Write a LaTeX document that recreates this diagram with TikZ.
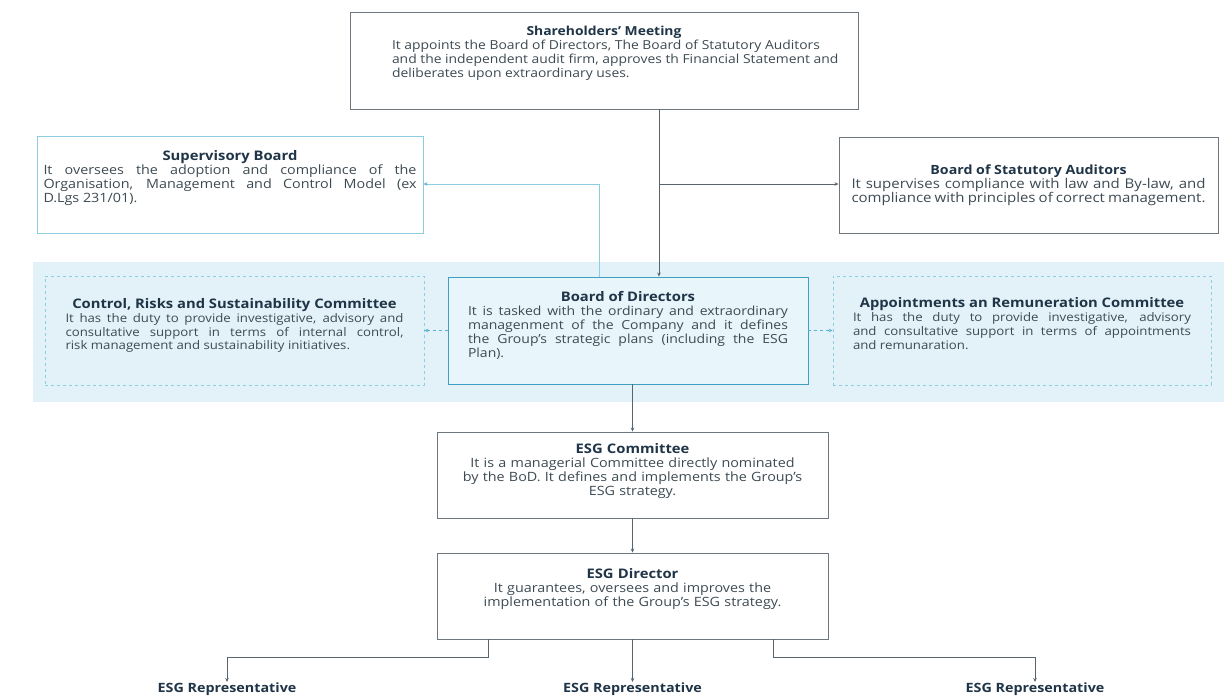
\documentclass[tikz,border=0pt]{standalone}
\usepackage{fontspec}
\setmainfont{Open Sans}[FakeStretch=1.12]
\usetikzlibrary{arrows.meta}

\definecolor{boxgrey}{HTML}{6E777D}
\definecolor{linegrey}{HTML}{59646C}
\definecolor{titlecol}{HTML}{1F3447}
\definecolor{textcol}{HTML}{3D4A52}
\definecolor{bandfill}{HTML}{E2F2F8}
\definecolor{bodfill}{HTML}{E8F5FA}
\definecolor{bodline}{HTML}{3F9FC0}
\definecolor{lightline}{HTML}{8DCDE2}
\definecolor{arrowblue}{HTML}{5BB2D0}

\newcommand{\boxtitle}[2][13.2]{{\centering\fontsize{#1}{14}\selectfont\bfseries\color{titlecol}#2\par}}
\newcommand{\lift}[1]{\par\vspace*{#1}}

\tikzset{
  orgbox/.style={draw=boxgrey, line width=0.9pt, fill=white, text=textcol,
    align=justify, inner sep=0pt,
    font=\fontsize{12.8}{14}\selectfont},
  midbox/.style={orgbox, align=center},
  supbox/.style={orgbox, draw=lightline},
  bodbox/.style={orgbox, draw=bodline, fill=bodfill, font=\fontsize{12.5}{14}\selectfont},
  dashbox/.style={orgbox, draw=lightline, dashed, fill=none, font=\fontsize{11.8}{13.8}\selectfont},
  replabel/.style={anchor=north, inner sep=1pt, text=titlecol,
    font=\fontsize{12.8}{14}\selectfont\bfseries},
  conn/.style={draw=linegrey, line width=0.9pt, -{Stealth[length=4pt,width=3.5pt]}},
  blueconn/.style={draw=lightline, line width=0.9pt, -{Stealth[length=4pt,width=3.5pt,color=arrowblue]}},
  dashconn/.style={draw=arrowblue, line width=0.7pt, dashed, -{Stealth[length=4pt,width=3.5pt]}}
}

\begin{document}
\begin{tikzpicture}[x=1pt,y=-1pt]
  \useasboundingbox (0,0) rectangle (1224,699);

  % committees band
  \fill[bandfill] (33,262) rectangle (1224,402);

  \node[orgbox, minimum width=508pt, minimum height=97pt, text width=484pt,
        font=\fontsize{12.4}{14}\selectfont] (share) at (604,60.5)
    {\leftskip=30pt
     \boxtitle[12.4]{Shareholders' Meeting}
     It appoints the Board of Directors, The Board of Statutory Auditors\\
     and the independent audit firm, approves th Financial Statement and\\
     deliberates upon extraordinary uses.\lift{15pt}};

  \node[supbox, minimum width=386pt, minimum height=97pt, text width=373pt] (sup) at (230,184.5)
    {\boxtitle{Supervisory Board}
     It oversees the adoption and compliance of the\linebreak
     Organisation, Management and Control Model (ex\linebreak
     D.Lgs 231/01).\lift{12pt}};

  \node[orgbox, minimum width=379pt, minimum height=96pt, text width=354pt,
        font=\fontsize{13.4}{14}\selectfont] (aud) at (1028.5,185)
    {\boxtitle[12.7]{Board of Statutory Auditors}
     It supervises compliance with law and By-law, and\linebreak
     compliance with principles of correct management.};

  \node[dashbox, minimum width=379pt, minimum height=109pt, text width=338pt] (crsc) at (234.5,330.5)
    {\boxtitle{Control, Risks and Sustainability Committee}
     It has the duty to provide investigative, advisory and\linebreak
     consultative support in terms of internal control,\linebreak
     risk management and sustainability initiatives.\lift{10pt}};

  \node[bodbox, minimum width=360pt, minimum height=107pt, text width=320pt] (bod) at (628,330.5)
    {\boxtitle{Board of Directors}
     It is tasked with the ordinary and extraordinary\linebreak
     managenment of the Company and it defines\linebreak
     the Group's strategic plans (including the ESG\linebreak
     Plan).\lift{10pt}};

  \node[dashbox, minimum width=378pt, minimum height=109pt, text width=338pt] (arc) at (1022,330.5)
    {\boxtitle{Appointments an Remuneration Committee}
     It has the duty to provide investigative, advisory\linebreak
     and consultative support in terms of appointments\linebreak
     and remunaration.\lift{14pt}};

  \node[midbox, minimum width=391pt, minimum height=86pt, text width=380pt] (esgc) at (632.5,475)
    {\boxtitle{ESG Committee}
     It is a managerial Committee directly nominated\\
     by the BoD. It defines and implements the Group's\\
     ESG strategy.\lift{8pt}};

  \node[midbox, minimum width=391pt, minimum height=86pt, text width=380pt] (esgd) at (632.5,596)
    {\boxtitle{ESG Director}
     It guarantees, oversees and improves the\\
     implementation of the Group's ESG strategy.\lift{14pt}};

  \node[replabel] (repl) at (227,682) {ESG Representative};
  \node[replabel] (repc) at (632.5,682) {ESG Representative};
  \node[replabel] (repr) at (1035,682) {ESG Representative};

  % connectors
  \coordinate (trunk) at (659,184);
  \draw[conn] (share.south -| trunk) -- (bod.north -| trunk);
  \draw[conn] (trunk) -- (trunk -| aud.west);

  \coordinate (svline) at (599,184);
  \draw[blueconn] (bod.north -| svline) -- (svline) -- (svline -| sup.east);

  \draw[dashconn] (bod.west) -- (crsc.east);
  \draw[dashconn] (bod.east) -- (arc.west);

  \draw[conn] (esgc.north |- bod.south) -- (esgc.north);
  \draw[conn] (esgc.south) -- (esgd.north);

  \coordinate (lbranch) at (488,657);
  \coordinate (rbranch) at (773,657);
  \draw[conn] (esgd.south -| lbranch) -- (lbranch) -| (repl.north);
  \draw[conn] (esgd.south) -- (repc.north);
  \draw[conn] (esgd.south -| rbranch) -- (rbranch) -| (repr.north);
\end{tikzpicture}
\end{document}
